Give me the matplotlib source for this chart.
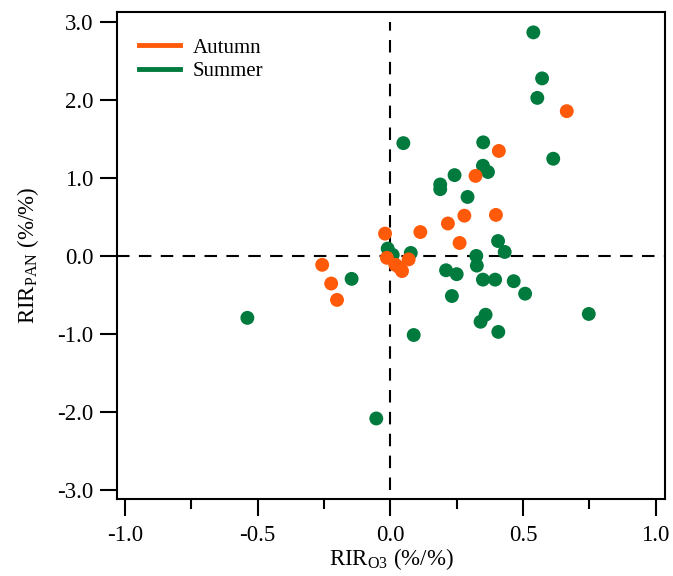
import matplotlib.pyplot as plt
from matplotlib.lines import Line2D
from matplotlib.ticker import MultipleLocator

# RIR values
summer_o3 = [0.539, 0.572, 0.554, 0.614, 0.049, 0.350, 0.349, 0.368, 0.242, 0.188,
             0.188, 0.291, 0.406, 0.431, -0.010, 0.009, 0.077, 0.324, 0.326, 0.210,
             0.250, 0.349, 0.395, 0.465, 0.508, 0.232, 0.359, 0.340, 0.407, 0.088,
             0.748, -0.539, -0.146, -0.053]
summer_pan = [2.87, 2.28, 2.03, 1.25, 1.45, 1.46, 1.16, 1.08, 1.04, 0.92,
              0.86, 0.76, 0.195, 0.055, 0.098, 0.017, 0.042, 0.004, -0.12, -0.18,
              -0.23, -0.30, -0.30, -0.32, -0.48, -0.51, -0.75, -0.84, -0.97, -1.01,
              -0.74, -0.79, -0.29, -2.08]

autumn_o3 = [0.665, 0.409, 0.321, 0.217, 0.279, 0.398, 0.261, 0.113, -0.020,
             -0.257, -0.223, -0.201, -0.013, 0.019, 0.044, 0.069, 0.033]
autumn_pan = [1.86, 1.35, 1.03, 0.42, 0.52, 0.53, 0.17, 0.31, 0.29,
              -0.11, -0.35, -0.56, -0.02, -0.11, -0.19, -0.04, -0.14]

orange = "#ff5a0a"
green = "#007a3d"

plt.rcParams["font.family"] = "Liberation Serif"
plt.rcParams["font.size"] = 16.5

fig = plt.figure(figsize=(6.73, 5.76), dpi=100)
ax = fig.add_axes([0.174, 0.134, 0.814, 0.845])

ax.plot([0, 0], [-3, 3], color="black", lw=1.5, ls=(0, (6, 4.5)), zorder=1)
ax.axhline(0, color="black", lw=1.5, ls=(0, (6, 4.5)), zorder=1)

ax.scatter(summer_o3, summer_pan, s=100, color=green, edgecolors="none", zorder=3)
ax.scatter(autumn_o3, autumn_pan, s=100, color=orange, edgecolors="none", zorder=3)

ax.set_xlim(-1.03, 1.035)
ax.set_ylim(-3.11, 3.13)
ax.xaxis.set_major_locator(MultipleLocator(0.5))
ax.xaxis.set_minor_locator(MultipleLocator(0.25))
ax.yaxis.set_major_locator(MultipleLocator(1.0))
ax.xaxis.set_major_formatter(lambda v, p: f"{v:.1f}")
ax.yaxis.set_major_formatter(lambda v, p: f"{v:.1f}")
ax.tick_params(axis="both", which="major", direction="out", length=12, width=1.5, pad=5)
ax.tick_params(axis="x", which="major", pad=7)
ax.tick_params(axis="x", which="minor", direction="out", length=7, width=1.5)
for sp in ax.spines.values():
    sp.set_linewidth(1.5)

ax.set_xlabel("RIR$_{\\mathregular{O3}}$ (%/%)", labelpad=0)
ax.set_ylabel("RIR$_{\\mathregular{PAN}}$ (%/%)", labelpad=12)

handles = [Line2D([], [], color=orange, lw=3.5), Line2D([], [], color=green, lw=3.5)]
ax.legend(handles, ["Autumn", "Summer"], loc="upper left", frameon=False,
          bbox_to_anchor=(0.005, 0.985), handlelength=2.0, handletextpad=0.6,
          labelspacing=0.2, fontsize=15)

fig.savefig("out.png", dpi=100)
